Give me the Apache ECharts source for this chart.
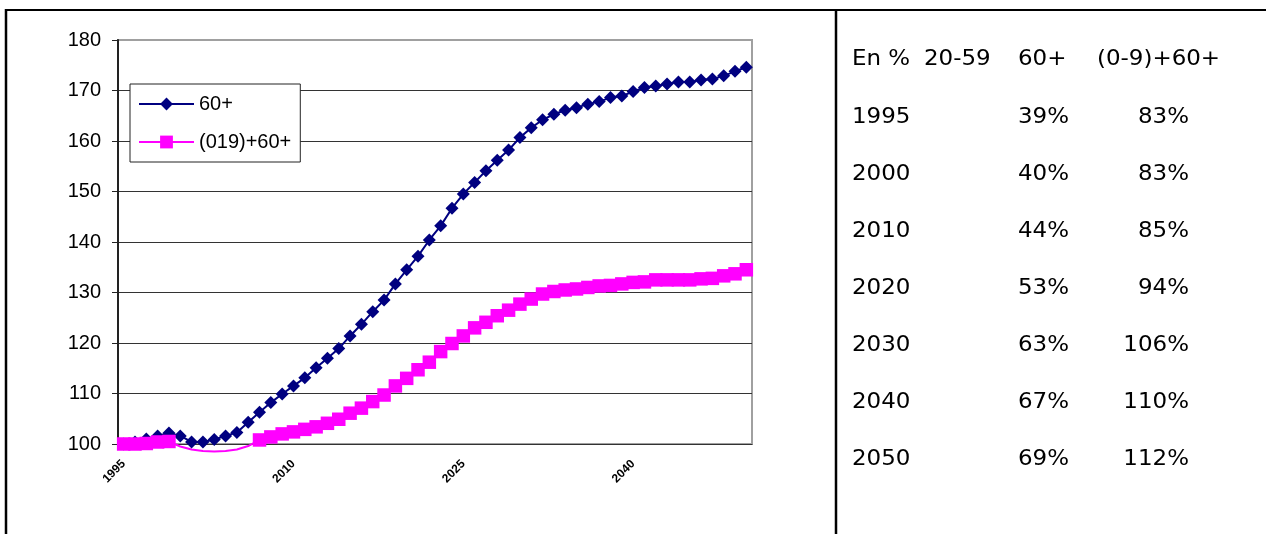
<!DOCTYPE html>
<html>
<head>
<meta charset="utf-8">
<script src="https://cdn.jsdelivr.net/npm/echarts@6/dist/echarts.min.js"></script>
<style>
  html, body { margin: 0; padding: 0; background: #fff; }
  #chart { width: 1266px; height: 534px; }
</style>
</head>
<body>
<div id="chart"></div>
<script>
const years = [
  "1995", "1996", "1997", "1998", "1999", "2000", "2001", "2002", "2003", "2004",
  "2005", "2006", "2007", "2008", "2009", "2010", "2011", "2012", "2013", "2014",
  "2015", "2016", "2017", "2018", "2019", "2020", "2021", "2022", "2023", "2024",
  "2025", "2026", "2027", "2028", "2029", "2030", "2031", "2032", "2033", "2034",
  "2035", "2036", "2037", "2038", "2039", "2040", "2041", "2042", "2043", "2044",
  "2045", "2046", "2047", "2048", "2049", "2050"
];

// indice 60+
const old60 = [
  100.0, 100.4, 101.0, 101.6, 102.2, 101.6, 100.4, 100.4, 100.9, 101.6,
  102.3, 104.3, 106.3, 108.2, 109.9, 111.5, 113.1, 115.1, 117.0, 118.9,
  121.4, 123.7, 126.2, 128.5, 131.7, 134.5, 137.2, 140.4, 143.2, 146.7,
  149.5, 151.8, 154.1, 156.2, 158.2, 160.7, 162.6, 164.2, 165.3, 166.1,
  166.6, 167.3, 167.8, 168.6, 168.9, 169.8, 170.6, 170.9, 171.3, 171.7,
  171.7, 172.1, 172.3, 172.9, 173.8, 174.6
];

// indice (0-19)+60+
const young60 = [
  100.0, 100.0, 100.1, 100.4, 100.5, 99.5, 98.9, 98.6, 98.5, 98.6,
  98.9, 99.6, 100.8, 101.4, 102.0, 102.4, 102.9, 103.4, 104.1, 104.9,
  106.1, 107.1, 108.4, 109.7, 111.5, 113.0, 114.7, 116.2, 118.3, 119.9,
  121.4, 123.0, 124.1, 125.4, 126.5, 127.7, 128.7, 129.7, 130.2, 130.5,
  130.7, 131.0, 131.3, 131.4, 131.7, 132.0, 132.1, 132.5, 132.5, 132.5,
  132.5, 132.7, 132.8, 133.3, 133.7, 134.5
];

// tableau de droite
const tableHeader = ["En %", "20-59", "60+", "(0-9)+60+"];
const tableYears = ["1995", "2000", "2010", "2020", "2030", "2040", "2050"];
const share60 = ["39%", "40%", "44%", "53%", "63%", "67%", "69%"];
const shareMix = ["83%", "83%", "85%", "94%", "106%", "110%", "112%"];

const myChart = echarts.init(document.getElementById("chart"));

const tFont = '20.5px "DejaVu Sans"';
const sx = 1.12;

const cell = (text, x, y, align) => ({
  type: "text",
  x: x,
  y: y,
  scaleX: sx,
  style: { text: text, font: tFont, fill: "#000", align: align, verticalAlign: "middle" }
});

const tableTexts = [
  cell(tableHeader[0], 852, 60, "left"),
  cell(tableHeader[1], 924, 60, "left"),
  cell(tableHeader[2], 1018, 60, "left"),
  cell(tableHeader[3], 1097, 60, "left")
];
tableYears.forEach((y, i) => {
  const cy = 117.5 + i * 57.1;
  tableTexts.push(cell(y, 852, cy, "left"));
  tableTexts.push(cell(share60[i], 1018, cy, "left"));
  tableTexts.push(cell(shareMix[i], 1189, cy, "right"));
});

const frame = [
  { type: "line", shape: { x1: 5, y1: 10, x2: 1266, y2: 10 }, style: { stroke: "#000", lineWidth: 2 } },
  { type: "line", shape: { x1: 6, y1: 9, x2: 6, y2: 534 }, style: { stroke: "#000", lineWidth: 2.5 } },
  { type: "line", shape: { x1: 836, y1: 9, x2: 836, y2: 534 }, style: { stroke: "#000", lineWidth: 2.5 } }
];

myChart.setOption({
  animation: false,
  backgroundColor: "#fff",
  textStyle: { fontFamily: '"Liberation Sans", Arial, sans-serif' },
  grid: {
    left: 118,
    right: 514,
    top: 40,
    bottom: 90,
    show: true,
    borderColor: "#a0a0a0",
    borderWidth: 2
  },
  legend: {
    orient: "vertical",
    left: 130,
    top: 84,
    padding: [10, 9, 10, 8],
    itemGap: 18,
    itemWidth: 55,
    itemHeight: 16,
    backgroundColor: "#fff",
    borderColor: "#222",
    borderWidth: 1,
    textStyle: { fontSize: 20, color: "#000", fontFamily: '"Liberation Sans", Arial, sans-serif' },
    data: ["60+", "(019)+60+"]
  },
  xAxis: {
    type: "category",
    data: years,
    boundaryGap: true,
    axisLine: { lineStyle: { color: "#333", width: 1 } },
    axisTick: { interval: 0, length: 4, lineStyle: { color: "#000" } },
    axisLabel: {
      interval: 14,
      rotate: 45,
      margin: 18,
      fontSize: 12,
      fontWeight: "bold",
      color: "#000"
    },
    splitLine: { show: false }
  },
  yAxis: {
    type: "value",
    min: 100,
    max: 180,
    interval: 10,
    axisLine: { show: true, lineStyle: { color: "#222", width: 2 } },
    axisTick: { show: true, length: 6, lineStyle: { color: "#222" } },
    axisLabel: { fontSize: 20, color: "#000", margin: 17 },
    splitLine: {
      lineStyle: {
        color: ["#333", "#333", "#333", "#333", "#333", "#333", "#333", "#333", "#a0a0a0"],
        width: 1
      }
    }
  },
  series: [
    {
      name: "60+",
      type: "line",
      data: old60,
      symbol: "diamond",
      symbolSize: 13,
      showAllSymbol: true,
      lineStyle: { color: "#000080", width: 2 },
      itemStyle: { color: "#000080" }
    },
    {
      name: "(019)+60+",
      type: "line",
      data: young60,
      clip: false,
      symbol: "rect",
      showAllSymbol: true,
      // les points sous 100 sont masqués comme dans Excel
      symbolSize: (v) => (v < 99.95 ? 0 : 13.5),
      lineStyle: { color: "#ff00ff", width: 2 },
      itemStyle: { color: "#ff00ff" }
    }
  ],
  graphic: frame.concat(tableTexts)
});
</script>
</body>
</html>
